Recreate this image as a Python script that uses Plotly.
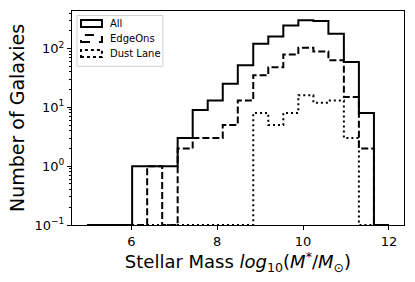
import plotly.graph_objects as go

# histogram bin edges (log10 stellar mass), 20 equal bins
edges = [4.97, 5.32, 5.67, 6.02, 6.37, 6.72, 7.08, 7.43, 7.78, 8.13, 8.48,
         8.84, 9.19, 9.54, 9.89, 10.24, 10.59, 10.95, 11.30, 11.65, 12.0]

all_counts = [0, 0, 0, 1, 1, 1, 3, 9, 13, 25, 52,
              120, 160, 246, 300, 292, 177, 59, 8, 0]
edgeon_counts = [0, 0, 0, 0, 1, 0, 2, 3, 3, 5, 13,
                 35, 48, 79, 103, 89, 63, 15, 2, 0]
dust_counts = [0, 0, 0, 0, 0, 0, 0, 0, 0, 0, 0,
               8, 5, 8, 16, 12, 13, 3, 0, 0]

series_names = ["All", "EdgeOns", "Dust Lane"]
y_ticks = [0.1, 1, 10, 100]
y_tick_text = ["10<sup>\u22121</sup>", "10<sup>0</sup>", "10<sup>1</sup>", "10<sup>2</sup>"]
x_ticks = [6, 8, 10, 12]

FLOOR = 0.1  # empty bins sit on the bottom of the log axis
DASHES = ["solid", "7px,3px", "2px,3px"]

# plot area in pixels, used to place the hand-built legend
W, H = 415, 282
L, R, T, B = 72, 10.5, 10.5, 57
PW, PH = W - L - R, H - T - B


def px(x):
    return (x - L) / PW


def py(y):
    return (H - B - y) / PH


def step_xy(counts):
    ys = [c if c > 0 else FLOOR for c in counts]
    return list(edges), ys + [ys[-1]]


fig = go.Figure()
for name, counts, dash in zip(series_names, [all_counts, edgeon_counts, dust_counts], DASHES):
    x, y = step_xy(counts)
    fig.add_trace(go.Scatter(
        x=x, y=y, name=name, mode="lines", line_shape="hv",
        line=dict(color="black", width=2, dash=dash), showlegend=False,
    ))

# legend in matplotlib style: outlined patches inside a framed box
fig.add_shape(type="rect", xref="paper", yref="paper",
              x0=px(77), x1=px(163), y0=py(66), y1=py(15),
              line=dict(color="#d0d0d0", width=1), fillcolor="rgba(255,255,255,0.8)")
for i, (name, dash) in enumerate(zip(series_names, ["solid", "dash", "dot"])):
    cy = 23 + 15 * i
    fig.add_shape(type="rect", xref="paper", yref="paper",
                  x0=px(81), x1=px(102), y0=py(cy + 3.5), y1=py(cy - 3.5),
                  line=dict(color="black", width=2, dash=dash))
    fig.add_annotation(x=px(108), y=py(cy), xref="paper", yref="paper",
                       text=name, showarrow=False, xanchor="left", yanchor="middle",
                       font=dict(family="DejaVu Sans", size=10, color="black"))

axis_common = dict(
    showgrid=False, zeroline=False, showline=True, linecolor="black",
    linewidth=1, mirror=True, ticks="outside", ticklen=4, tickcolor="black",
    automargin=False,
    tickfont=dict(family="DejaVu Sans", size=13, color="black"),
)

fig.update_xaxes(
    range=[4.62, 12.35], tickvals=x_ticks,
    title=dict(
        text="Stellar Mass <i>log</i><sub>10</sub>(<i>M</i><sup>*</sup>/<i>M</i><sub>\u2299</sub>)",
        font=dict(family="DejaVu Sans", size=18, color="black"), standoff=4,
    ),
    **axis_common,
)
fig.update_yaxes(
    type="log", range=[-1, 2.636], tickvals=y_ticks, ticktext=y_tick_text,
    minor=dict(ticks="outside", ticklen=2, tickcolor="black",
               tickvals=[v * m for v in [0.1, 1, 10, 100] for m in range(2, 10)]),
    title=dict(text="Number of Galaxies",
               font=dict(family="DejaVu Sans", size=19, color="black"), standoff=4),
    **axis_common,
)

fig.update_layout(
    width=W, height=H,
    margin=dict(l=L, r=R, t=T, b=B),
    plot_bgcolor="white", paper_bgcolor="white",
    showlegend=False,
)

# drop the browser's default body margin so the figure fills the window
fig.write_html("out.html", config={"displayModeBar": False},
               post_script="document.body.style.margin='0';")
